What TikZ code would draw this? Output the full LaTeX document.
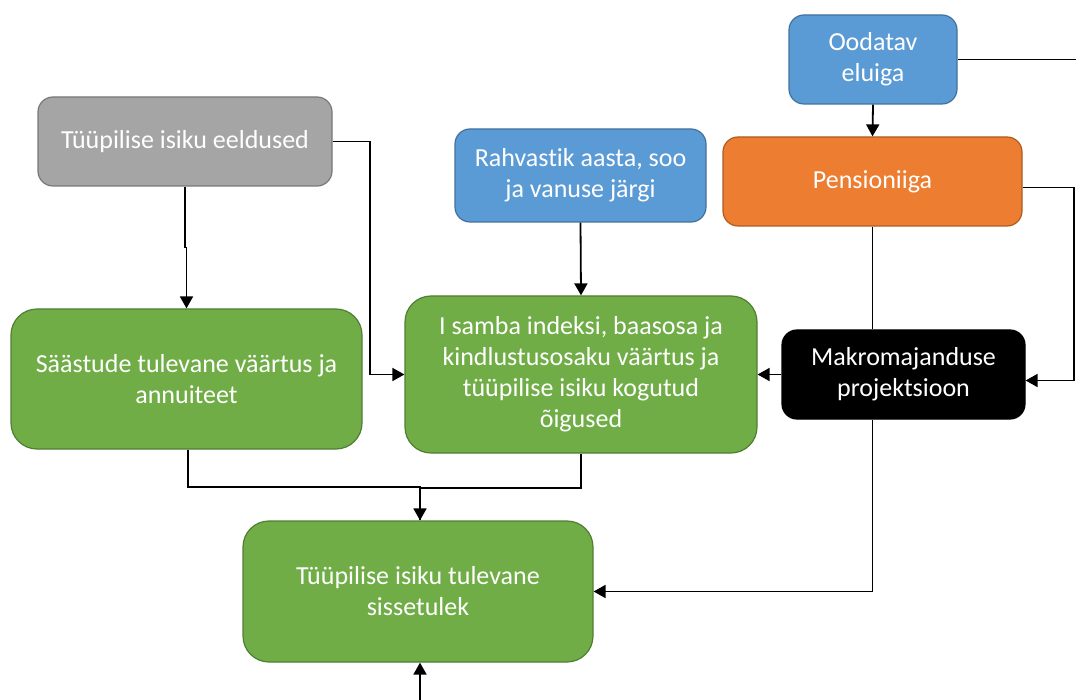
\documentclass[tikz,border=0pt]{standalone}
\usepackage{fontspec}
\setmainfont{Carlito}[Ligatures=NoCommon]
\usepackage{tikz}
\usetikzlibrary{arrows.meta}

\definecolor{sinine}{HTML}{5B9BD5}
\definecolor{sinineaar}{HTML}{41719C}
\definecolor{oranz}{HTML}{ED7D31}
\definecolor{oranzaar}{HTML}{AE5A21}
\definecolor{hall}{HTML}{A5A5A5}
\definecolor{hallaar}{HTML}{787878}
\definecolor{roheline}{HTML}{70AD47}
\definecolor{rohelineaar}{HTML}{507E32}

\tikzset{
    kast/.style={draw, line width=1.2pt, rounded corners=15pt, text=white, align=center,
        inner sep=0pt, font=\fontsize{26}{31}\selectfont},
    suurkast/.style={kast, rounded corners=26pt},
    noolega/.style={line width=1.8pt, -{Triangle[length=12pt,width=13pt]}},
    joon/.style={line width=1.8pt}
}

\begin{document}
\begin{tikzpicture}[x=1pt,y=-1pt]
    \useasboundingbox (0,0) rectangle (1076,700);

    % Top boxes
    \node[kast, fill=sinine, draw=sinineaar, minimum width=168pt, minimum height=89pt] (oodatav) at (873,59.5) {Oodatav\\eluiga};
    \node[kast, fill=oranz, draw=oranzaar, minimum width=299pt, minimum height=89pt] (pension) at (872.5,181.5) {Pensioniiga};
    \node[kast, fill=hall, draw=hallaar, minimum width=294pt, minimum height=89pt] (eeldus) at (185,141.5) {Tüüpilise isiku eeldused};
    \node[kast, fill=sinine, draw=sinineaar, minimum width=251pt, minimum height=93pt] (rahvastik) at (580.5,175.5) {Rahvastik aasta, soo\\ja vanuse järgi};

    % Middle boxes
    \node[suurkast, fill=roheline, draw=rohelineaar, minimum width=351pt, minimum height=140pt] (saastud) at (186.5,379) {Säästude tulevane väärtus ja\\annuiteet};
    \node[suurkast, fill=roheline, draw=rohelineaar, minimum width=352pt, minimum height=157pt] (isammas) at (581,374.5) {I samba indeksi, baasosa ja\\kindlustusosaku väärtus ja\\tüüpilise isiku kogutud\\õigused};
    \node[kast, fill=black, draw=black, minimum width=243pt, minimum height=89pt] (makro) at (903.5,374.5) {Makromajanduse\\projektsioon};

    % Result
    \node[suurkast, fill=roheline, draw=rohelineaar, minimum width=350pt, minimum height=141pt] (tulevane) at (418,591.5) {Tüüpilise isiku tulevane\\sissetulek};

    % Free ends
    \coordinate (paremserv) at (1076,0);
    \coordinate (alaserv) at (420,700);

    % Connectors
    \draw[joon] (oodatav.east) -- (oodatav.east -| paremserv);
    \draw[noolega] (oodatav.south) -- (pension.north);
    \draw[noolega] ([yshift=-6pt]pension.east) -- ++(51,0) |- ([yshift=-6pt]makro.east);
    \draw[joon] (pension.south) -- (pension.south |- makro.north);
    \draw[noolega] (pension.south |- makro.south) |- (tulevane.east);
    \draw[noolega] (makro.west) -- (isammas.east);
    \draw[noolega] (eeldus.south) -- ++(0,61) -| (saastud.north);
    \draw[noolega] (eeldus.east) -- ++(37,0) |- (isammas.west);
    \draw[noolega] (rahvastik.south) -- (isammas.north);
    \draw[joon] ([xshift=1.5pt]saastud.south) -- ++(0,37) -| ([xshift=2pt]tulevane.north);
    \draw[noolega] (isammas.south) -- ++(0,34) -| ([xshift=2pt]tulevane.north);
    \draw[noolega] (alaserv) -- (alaserv |- tulevane.south);
\end{tikzpicture}
\end{document}
